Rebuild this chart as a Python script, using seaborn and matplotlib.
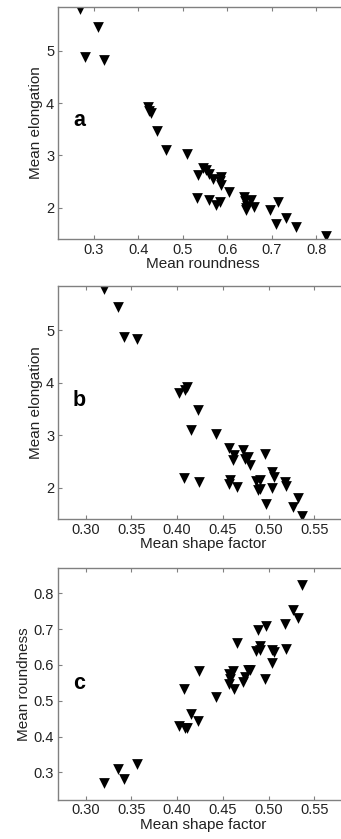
import matplotlib
matplotlib.use("Agg")
import matplotlib.pyplot as plt
import seaborn as sns
import pandas as pd

# Per-sample mean morphometrics
shape_factor = [0.320, 0.335, 0.342, 0.356, 0.402, 0.409, 0.411, 0.423, 0.415, 0.4425,
                0.407, 0.424, 0.4655, 0.462, 0.457, 0.458, 0.457, 0.4715, 0.461, 0.474,
                0.478, 0.4797, 0.537, 0.527, 0.5325, 0.5175, 0.497, 0.488, 0.519, 0.491,
                0.486, 0.504, 0.5059, 0.5034, 0.496, 0.4906]
roundness = [0.270, 0.309, 0.280, 0.324, 0.429, 0.425, 0.423, 0.443, 0.462, 0.510,
             0.532, 0.583, 0.661, 0.534, 0.546, 0.560, 0.575, 0.552, 0.584, 0.567,
             0.586, 0.585, 0.823, 0.754, 0.731, 0.713, 0.709, 0.697, 0.645, 0.653,
             0.640, 0.643, 0.637, 0.605, 0.560, 0.642]
elongation = [5.80, 5.45, 4.88, 4.83, 3.81, 3.855, 3.92, 3.475, 3.105, 3.03,
              2.185, 2.10, 2.02, 2.63, 2.765, 2.14, 2.06, 2.72, 2.52, 2.54,
              2.58, 2.44, 1.45, 1.63, 1.81, 2.115, 1.69, 1.95, 2.025, 2.147,
              2.13, 2.00, 2.21, 2.30, 2.65, 1.965]

x_ticks_round = [0.3, 0.4, 0.5, 0.6, 0.7, 0.8]
x_ticks_shape = [0.30, 0.35, 0.40, 0.45, 0.50, 0.55]
y_ticks_elong = [2, 3, 4, 5]
y_ticks_round = [0.3, 0.4, 0.5, 0.6, 0.7, 0.8]
panel_labels = ["a", "b", "c"]

df = pd.DataFrame({"Mean shape factor": shape_factor,
                   "Mean roundness": roundness,
                   "Mean elongation": elongation})

sns.set_style("ticks")
plt.rcParams['font.family'] = ['Liberation Sans', 'DejaVu Sans']

W, H = 341, 839
fig = plt.figure(figsize=(W / 100, H / 100), dpi=100)

left = 58.3
width = 290.0
spec = [
    (6.7, 239.3, "Mean roundness", "Mean elongation",
     (0.2204, 0.2204 + width / 445.0), (1.395, 5.848),
     x_ticks_round, y_ticks_elong, "%.1f", "%d"),
    (286.0, 519.3, "Mean shape factor", "Mean elongation",
     (0.270, 0.270 + width / 914.4), (1.395, 5.848),
     x_ticks_shape, y_ticks_elong, "%.2f", "%d"),
    (568.3, 800.0, "Mean shape factor", "Mean roundness",
     (0.270, 0.270 + width / 914.4), (0.2226, 0.870),
     x_ticks_shape, y_ticks_round, "%.2f", "%.1f"),
]

text_col = "#222222"
spine_col = "#808080"

for i, (top, bot, xc, yc, xlim, ylim, xt, yt, fx, fy) in enumerate(spec):
    ax = fig.add_axes([left / W, (H - bot) / H, width / W, (bot - top) / H])
    sns.scatterplot(data=df, x=xc, y=yc, ax=ax, marker="v", color="black",
                    s=60, linewidth=0, clip_on=True)
    ax.set_xlim(*xlim)
    ax.set_ylim(*ylim)
    ax.set_xticks(xt)
    ax.set_yticks(yt)
    ax.set_xticklabels([fx % v for v in xt])
    ax.set_yticklabels([fy % v for v in yt])
    for sp in ax.spines.values():
        sp.set_color(spine_col)
        sp.set_linewidth(1.0)
    ax.tick_params(direction="in", top=True, right=True, length=3, width=0.8,
                   color=spine_col, labelsize=10.5, labelcolor=text_col, pad=3)
    ax.tick_params(axis="x", pad=2.5)
    ax.set_xlabel(xc, fontsize=11, color=text_col, labelpad=0.5)
    ax.set_ylabel(yc, fontsize=11, color=text_col, labelpad=2)
    ax.text(0.071, 0.51 if i < 2 else 0.503, panel_labels[i], transform=ax.transAxes,
            fontsize=15.5, fontweight="bold", color="black", ha="center", va="center")

fig.savefig("out.png", dpi=100)
